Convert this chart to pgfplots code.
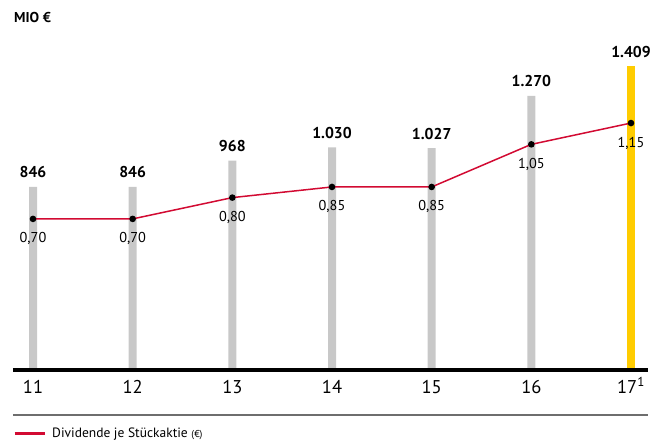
\documentclass[border=0pt]{standalone}
\usepackage{pgfplots}
\pgfplotsset{compat=1.18}
\usepackage{fontspec}
\setmainfont{PT Sans}
\definecolor{barg}{RGB}{200,200,200}
\definecolor{baryel}{RGB}{255,204,0}
\definecolor{divred}{RGB}{210,10,50}
\definecolor{sepgray}{RGB}{110,110,110}
\begin{document}
\begin{tikzpicture}
\useasboundingbox (-13pt,-74pt) rectangle (649pt,368pt);
\begin{axis}[
  at={(0pt,0pt)}, anchor=south west,
  scale only axis, width=635pt, height=338pt,
  xmin=-0.2007, xmax=6.1706, ymin=0, ymax=1578,
  hide y axis, axis x line*=bottom, x axis line style={draw=none},
  xtick={0,...,6}, xticklabels={11,12,13,14,15,16,17\textsuperscript{1}},
  major tick length=0pt,
  xticklabel style={font=\fontsize{18.5}{20}\selectfont, anchor=base, inner sep=0pt, yshift=-25pt},
  clip=false,
]
\addplot[ybar, bar width=8pt, bar shift=0pt, fill=barg, draw=none,
  nodes near coords, point meta=explicit symbolic,
  every node near coord/.style={font=\bfseries\fontsize{15.7}{18}\selectfont, anchor=base, yshift=9pt, inner sep=0pt, text=black}]
  table[meta=label] {
x y label
0 846 846
1 846 846
2 968 968
3 1030 1.030
4 1027 1.027
5 1270 1.270
};
\addplot[ybar, bar width=8.5pt, bar shift=0pt, fill=baryel, draw=none,
  nodes near coords, point meta=explicit symbolic,
  every node near coord/.style={font=\bfseries\fontsize{15.7}{18}\selectfont, anchor=base, yshift=9pt, inner sep=0pt, text=black}]
  table[meta=label] {
x y label
6 1409 1.409
};
\draw[line width=4pt, black] ([yshift=-2pt]rel axis cs:0,0) -- ([yshift=-2pt]rel axis cs:1,0);
\draw[line width=1.5pt, sepgray] ([yshift=-47pt]rel axis cs:0,0) -- ([yshift=-47pt]rel axis cs:1,0);
\end{axis}
\begin{axis}[
  at={(0pt,0pt)}, anchor=south west,
  scale only axis, width=635pt, height=338pt,
  xmin=-0.2007, xmax=6.1706, ymin=0, ymax=1.5869,
  hide x axis, hide y axis, clip=false,
  legend style={at={(0,-0.1923)}, anchor=west, draw=none, fill=none, inner sep=0pt,
    nodes={inner sep=0pt, font=\fontsize{13.5}{16}\selectfont},
    /tikz/every odd column/.append style={column sep=6pt}},
  legend image code/.code={\draw[divred, line width=3pt] (0pt,0pt) -- (30pt,0pt);},
]
\addplot[divred, line width=1.5pt, mark=*, mark size=2.5pt,
  mark options={draw=black, fill=black},
  nodes near coords, point meta=explicit symbolic,
  every node near coord/.style={font=\fontsize{14.3}{16}\selectfont, anchor=base, yshift=-24pt, inner sep=0pt, text=black}]
  table[meta=label] {
x y label
0 0.70 {0,70}
1 0.70 {0,70}
2 0.80 {0,80}
3 0.85 {0,85}
4 0.85 {0,85}
5 1.05 {1,05}
6 1.15 {1,15}
};
\addlegendentry{Dividende je Stückaktie {\fontsize{10}{12}\selectfont(€)}}
\end{axis}
\node[anchor=base west, inner sep=0pt, font=\bfseries\fontsize{14.3}{16}\selectfont] at (1pt,345pt) {MIO €};
\end{tikzpicture}
\end{document}
